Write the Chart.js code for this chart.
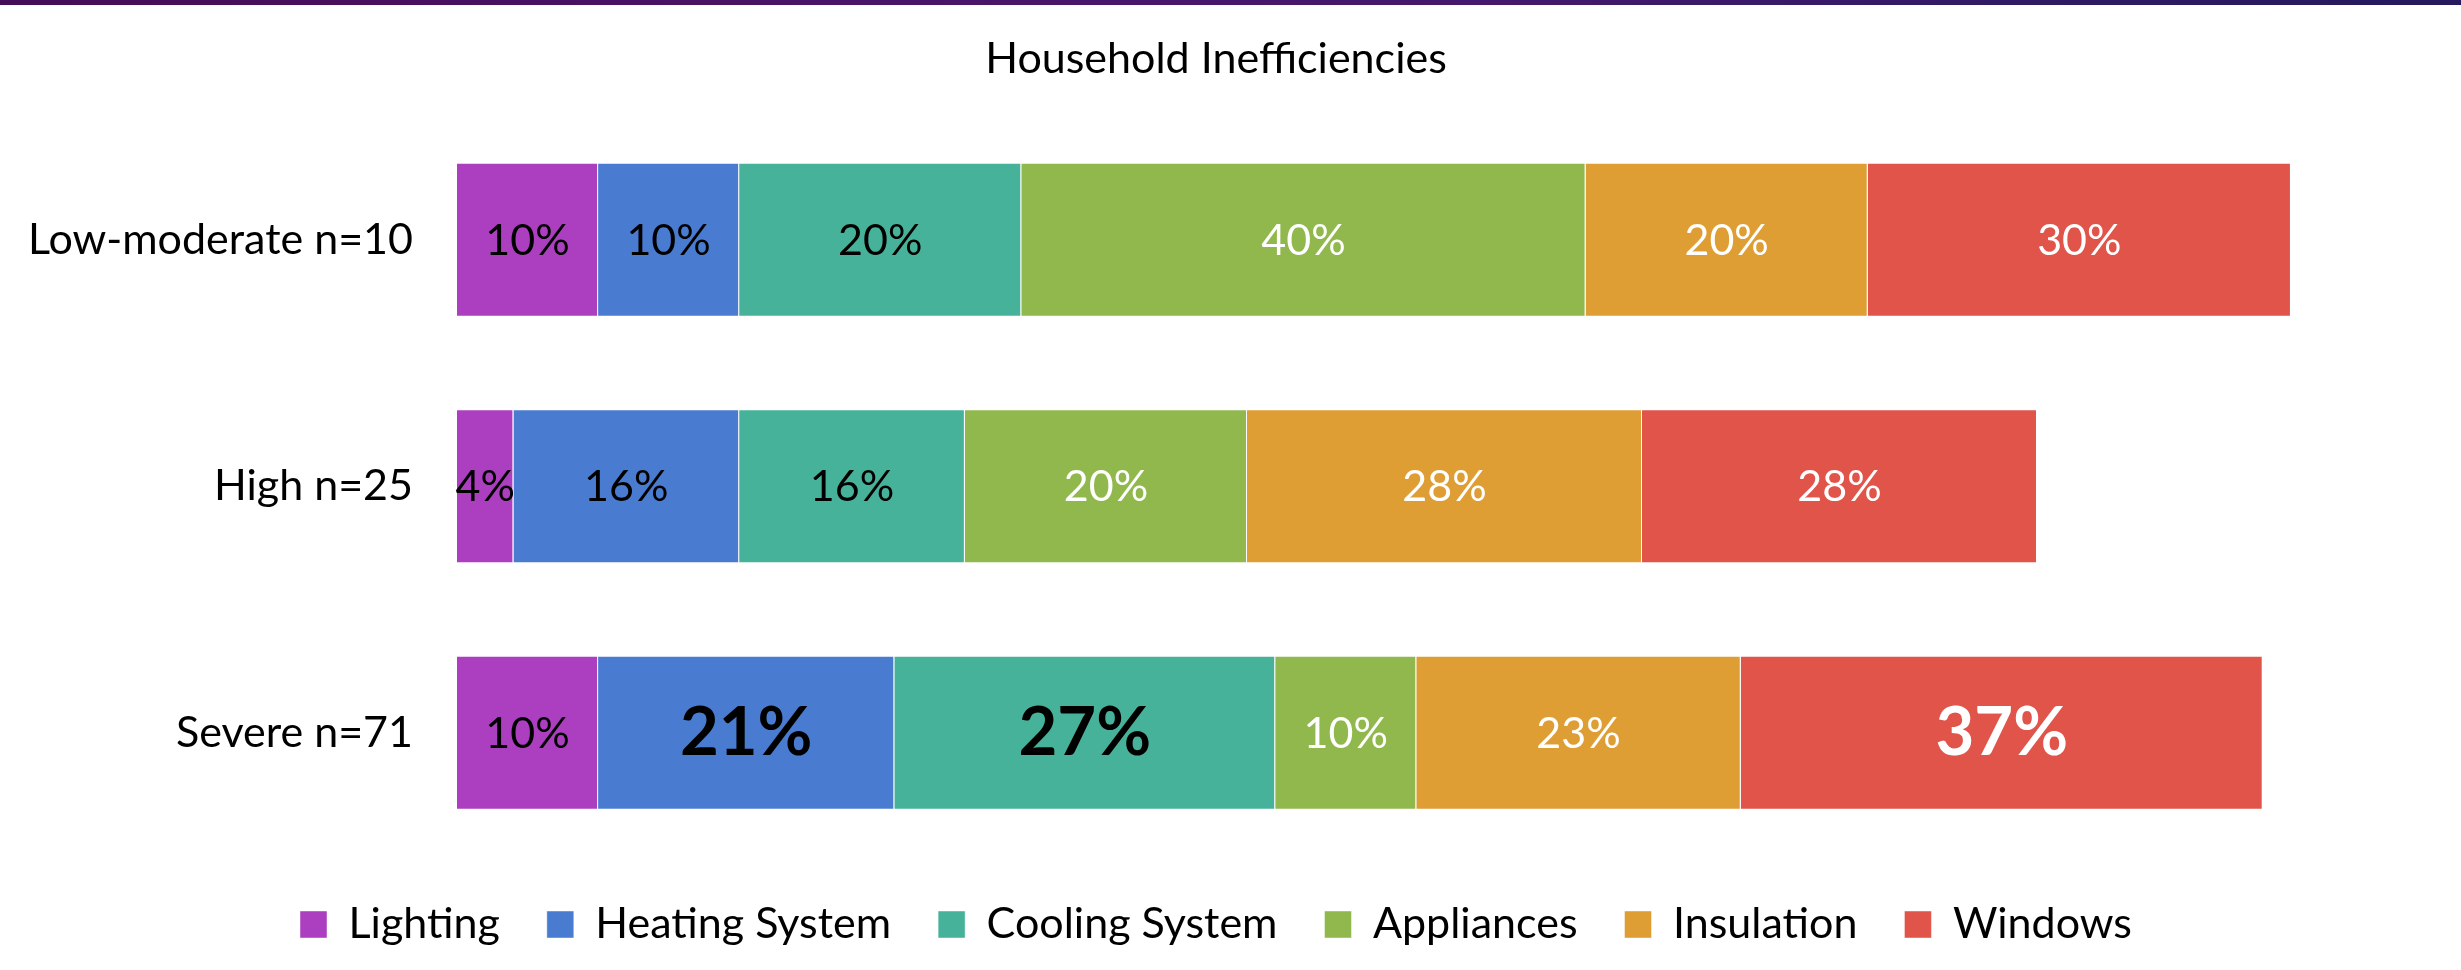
<!DOCTYPE html>
<html>
<head>
<meta charset="utf-8">
<script src="https://cdn.jsdelivr.net/npm/chart.js@4.4.1/dist/chart.umd.min.js"></script>
<style>
  html, body { margin: 0; padding: 0; background: #ffffff; }
  #wrap { position: relative; width: 2461px; height: 970px; overflow: hidden; }
  #band { position: absolute; left: 0; top: 0; width: 2461px; height: 5px;
          background: linear-gradient(90deg, #470c57 0%, #4a1468 35%, #44186e 60%, #2d1a63 85%, #26195e 100%); z-index: 2; }
  canvas { position: absolute; left: 0; top: 0; }
</style>
</head>
<body>
<div id="wrap">
  <div id="band"></div>
  <canvas id="c" width="2461" height="970"></canvas>
</div>
<script>
// ---- data ----
const chartTitle = 'Household Inefficiencies';
const categories = ['Low-moderate n=10', 'High n=25', 'Severe n=71'];
const seriesNames = ['Lighting', 'Heating System', 'Cooling System', 'Appliances', 'Insulation', 'Windows'];
const lighting   = [10, 4, 10];
const heating    = [10, 16, 21];
const cooling    = [20, 16, 27];
const appliances = [40, 20, 10];
const insulation = [20, 28, 23];
const windowsVal = [30, 28, 37];
// emphasised (large bold) labels: [seriesIndex, categoryIndex]
const emphasised = [[1, 2], [2, 2], [5, 2]];

// ---- styles ----
const seriesColors = ['#ab3fbf', '#497cd1', '#47b29a', '#91b84c', '#de9e33', '#e15449'];
const labelColors  = ['#000000', '#000000', '#000000', '#ffffff', '#ffffff', '#ffffff'];
const FONT = 'Lato';
const FS = 43;

const seriesValues = [lighting, heating, cooling, appliances, insulation, windowsVal];

const datasets = seriesNames.map((name, i) => ({
  label: name,
  data: seriesValues[i],
  backgroundColor: seriesColors[i],
  borderColor: 'rgba(255,255,255,0.45)',
  borderWidth: 1,
  barPercentage: 0.625,
  categoryPercentage: 1.0
}));

const barLabels = {
  id: 'barLabels',
  afterDatasetsDraw(chart) {
    const ctx = chart.ctx;
    ctx.save();
    ctx.textAlign = 'center';
    ctx.textBaseline = 'middle';
    chart.data.datasets.forEach((ds, di) => {
      const meta = chart.getDatasetMeta(di);
      meta.data.forEach((el, idx) => {
        const v = ds.data[idx];
        const big = emphasised.some(p => p[0] === di && p[1] === idx);
        ctx.font = big ? ('bold 67px ' + FONT) : (FS + 'px ' + FONT);
        ctx.fillStyle = labelColors[di];
        const cx = (el.x + el.base) / 2;
        ctx.fillText(v + '%', cx, el.y + 1);
      });
    });
    ctx.restore();
  }
};

function build() {
  Chart.defaults.font.family = FONT;
  Chart.defaults.color = '#000000';
  new Chart(document.getElementById('c'), {
    type: 'bar',
    data: { labels: categories, datasets },
    options: {
      indexAxis: 'y',
      responsive: false,
      devicePixelRatio: 1,
      animation: false,
      layout: { padding: { left: 0, right: 29, top: 0, bottom: 14 } },
      scales: {
        x: { stacked: true, display: false, min: 0, max: 140 },
        y: {
          stacked: true,
          grid: { display: false, drawTicks: false },
          border: { display: false },
          ticks: { color: '#000000', font: { size: FS, family: FONT }, padding: 44 },
          afterFit(axis) { axis.width = 457; }
        }
      },
      plugins: {
        title: {
          display: true, text: chartTitle, color: '#000000',
          font: { size: FS, weight: 'normal', family: FONT },
          padding: { top: 33, bottom: 32 }
        },
        legend: {
          position: 'bottom',
          labels: {
            color: '#000000', boxWidth: 27, boxHeight: 27, padding: 47,
            font: { size: FS, family: FONT }
          }
        },
        tooltip: { enabled: false }
      }
    },
    plugins: [barLabels]
  });
}

if (document.fonts && document.fonts.load) {
  Promise.all([document.fonts.load(FS + 'px ' + FONT), document.fonts.load('bold 67px ' + FONT)])
    .then(build, build);
} else { build(); }
</script>
</body>
</html>
